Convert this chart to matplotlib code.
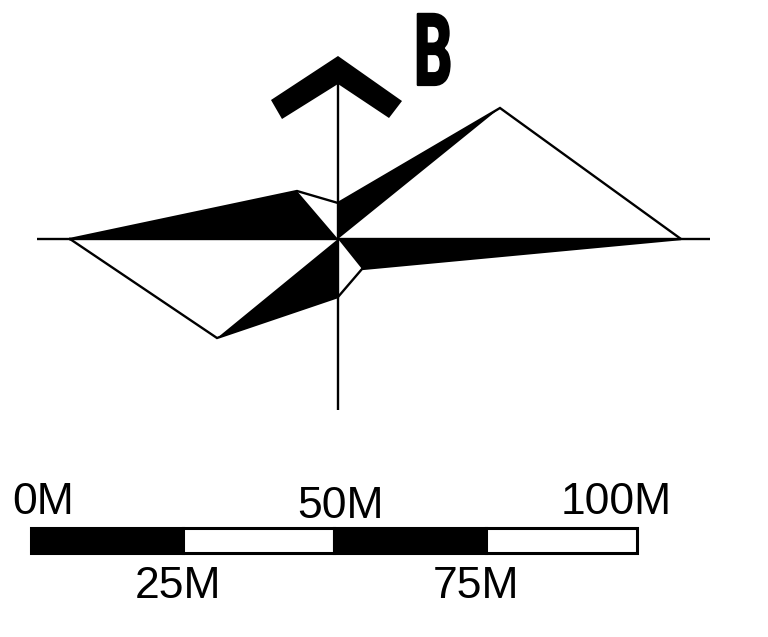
import matplotlib
matplotlib.use("Agg")
import matplotlib.pyplot as plt
from matplotlib.patheffects import AbstractPathEffect
from matplotlib.transforms import Affine2D

# wind rose (pixels from the rose centre, y up)
rose_dx = [-268, -41, 0, 162, 343, 24, 0, -121]
rose_dy = [0, 48, 36, 131, 0, -30, -58, -99]
# each black blade is a pair of neighbouring vertices + the centre
black_blades = [(0, 1), (2, 3), (4, 5), (6, 7)]

arrow_x = [271, 338, 402, 389, 338, 282]
arrow_y = [100, 56, 101, 118, 84, 119]

scale_edges = [31, 183, 334, 486, 637]
scale_colors = ["black", "white", "black", "white"]
top_labels = ["0M", "50M", "100M"]
top_x = [12, 297, 561]
top_y = [514, 518, 514]
bottom_labels = ["25M", "75M"]
bottom_x = [135, 433]
bottom_y = [598, 598]

CX, CY = 338, 239


class SqueezeX(AbstractPathEffect):
    """Narrows a glyph and thickens it, the B in the reference is a heavy condensed face."""

    def __init__(self, sx, extra):
        super().__init__()
        self.sx = sx
        self.extra = extra

    def draw_path(self, renderer, gc, tpath, affine, rgbFace=None):
        gc0 = renderer.new_gc()
        gc0.copy_properties(gc)
        gc0.set_linewidth(self.extra)
        gc0.set_foreground("black")
        renderer.draw_path(gc0, tpath, Affine2D().scale(self.sx, 1) + affine, rgbFace)
        gc0.restore()


plt.rcParams["font.family"] = ["Liberation Sans", "DejaVu Sans"]

fig = plt.figure(figsize=(7.68, 6.37), dpi=100)
ax = fig.add_axes([0, 0, 1, 1])
ax.set_xlim(0, 768)
ax.set_ylim(637, 0)
ax.axis("off")

# axis cross
ax.plot([37, 710], [CY, CY], color="black", linewidth=1.7, solid_capstyle="butt")
ax.plot([CX, CX], [84, 410], color="black", linewidth=1.7, solid_capstyle="butt")

# rose
xs = [CX + d for d in rose_dx]
ys = [CY - d for d in rose_dy]
for a, b in black_blades:
    ax.fill([CX, xs[a], xs[b]], [CY, ys[a], ys[b]], color="black", linewidth=0)
ax.plot(xs + xs[:1], ys + ys[:1], color="black", linewidth=1.7, solid_joinstyle="miter")

# north arrow
ax.fill(arrow_x, arrow_y, color="black", linewidth=0)
ax.text(
    414,
    85,
    "B",
    family="Roboto",
    fontweight="bold",
    fontsize=72,
    color="black",
    ha="left",
    va="baseline",
    path_effects=[SqueezeX(0.6, 1.6)],
)

# scale bar
for i, col in enumerate(scale_colors):
    ax.barh(
        540.5,
        scale_edges[i + 1] - scale_edges[i],
        height=25,
        left=scale_edges[i],
        color=col,
        edgecolor="black",
        linewidth=2.2,
    )

for lab, x, y in zip(top_labels, top_x, top_y):
    ax.text(x, y, lab, fontsize=32, ha="left", va="baseline", color="black")
for lab, x, y in zip(bottom_labels, bottom_x, bottom_y):
    ax.text(x, y, lab, fontsize=32, ha="left", va="baseline", color="black")

fig.savefig("out.png", dpi=100)
